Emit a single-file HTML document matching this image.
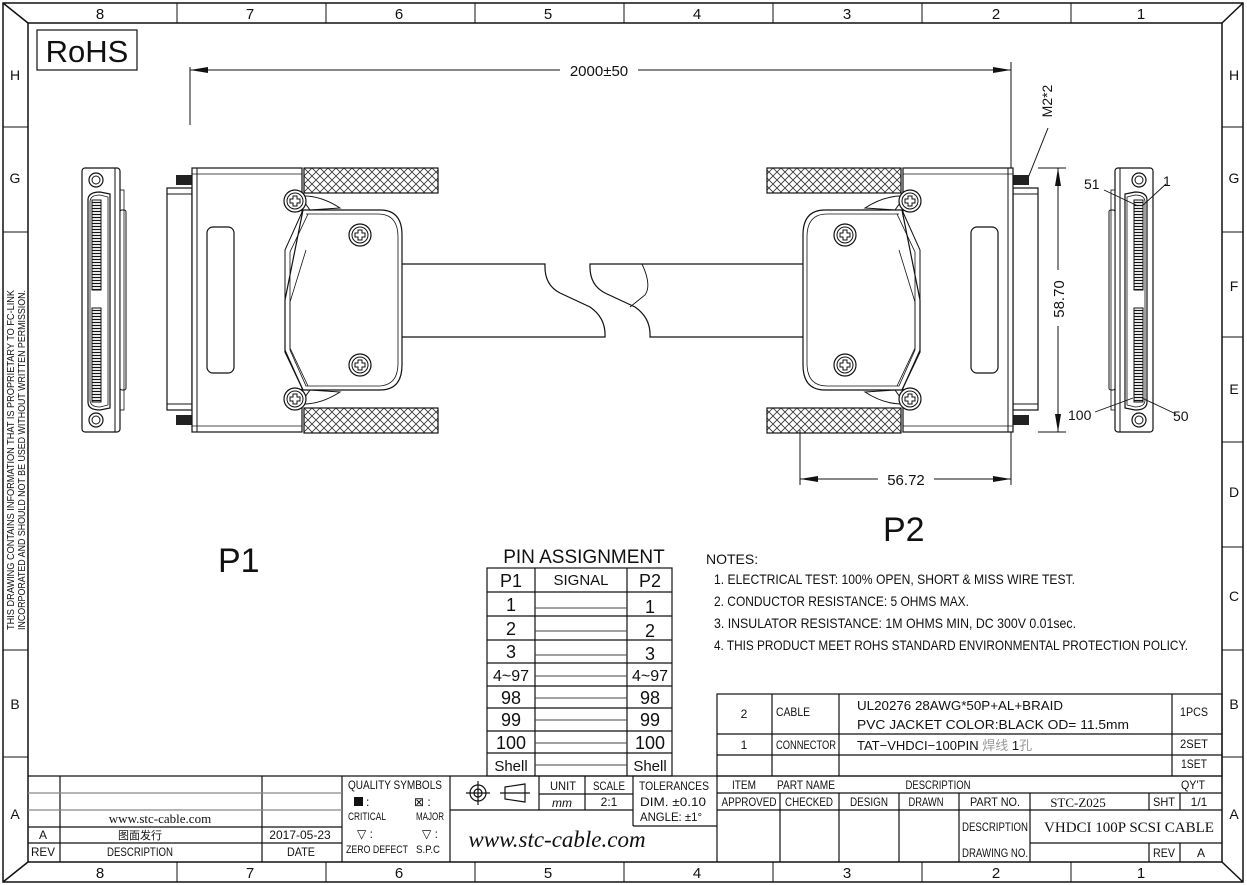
<!DOCTYPE html>
<html><head><meta charset="utf-8"><style>
html,body{margin:0;padding:0;background:#fff}
svg{display:block}
text{font-family:"Liberation Sans",sans-serif;fill:#111}
</style></head><body>
<svg width="1247" height="885" viewBox="0 0 1247 885" xmlns="http://www.w3.org/2000/svg">
<defs>
<pattern id="hatch" width="8" height="8" patternUnits="userSpaceOnUse">
<path d="M0 0L8 8M8 0L0 8" stroke="#333" stroke-width="0.8"/>
</pattern>
<pattern id="pins" width="4" height="3" patternUnits="userSpaceOnUse">
<rect width="4" height="3" fill="#fff"/><path d="M0 1.5H4" stroke="#111" stroke-width="1.2"/>
</pattern>
<g id="side">
<rect x="82" y="168" width="38" height="264" rx="3" fill="#fff" stroke="#111" stroke-width="1.2"/>
<line x1="115" y1="168" x2="115" y2="432" stroke="#111"/>
<rect x="120" y="210" width="6" height="180" rx="2" fill="#fff" stroke="#111"/>
<rect x="120" y="190" width="4" height="220" fill="none" stroke="#111" stroke-width="0.8"/>
<circle cx="96" cy="180" r="7" fill="none" stroke="#111" stroke-width="1.2"/><circle cx="96" cy="180" r="4" fill="none" stroke="#111"/>
<circle cx="96" cy="420" r="7" fill="none" stroke="#111" stroke-width="1.2"/><circle cx="96" cy="420" r="4" fill="none" stroke="#111"/>
<path d="M88 200Q88 192 100 192L110 194V408L100 410Q88 410 88 402Z" fill="#fff" stroke="#111" stroke-width="1.2"/>
<path d="M90 202Q90 195 100 195L108 197V405L100 407Q90 407 90 400Z" fill="none" stroke="#111" stroke-width="0.8"/>
<rect x="92" y="200" width="9" height="90" fill="url(#pins)" stroke="#111"/>
<rect x="92" y="308" width="9" height="94" fill="url(#pins)" stroke="#111"/>
</g>
<g id="plug">
<rect x="176" y="175" width="16" height="10" fill="#222"/>
<rect x="176" y="415" width="16" height="10" fill="#222"/>
<rect x="167" y="188" width="25" height="222" fill="#fff" stroke="#111" stroke-width="1.2"/>
<line x1="167" y1="194" x2="192" y2="194" stroke="#111"/>
<line x1="167" y1="404" x2="192" y2="404" stroke="#111"/>
<rect x="192" y="168" width="110" height="264" fill="#fff" stroke="#111" stroke-width="1.2"/>
<line x1="197" y1="168" x2="197" y2="432" stroke="#111"/>
<line x1="192" y1="174" x2="302" y2="174" stroke="#111" stroke-width="0.8"/>
<line x1="192" y1="426" x2="302" y2="426" stroke="#111" stroke-width="0.8"/>
<rect x="207" y="227" width="27" height="146" rx="6" fill="none" stroke="#111" stroke-width="1.2"/>
<rect x="304" y="168" width="134" height="25" fill="url(#hatch)" stroke="#111" stroke-width="1.2"/>
<rect x="304" y="408" width="134" height="25" fill="url(#hatch)" stroke="#111" stroke-width="1.2"/>
<path d="M300 196Q320 195 340 208L310 210Z" fill="#fff" stroke="#111"/>
<path d="M300 404Q320 405 340 392L310 390Z" fill="#fff" stroke="#111"/>
<path d="M303 210H380Q402 210 402 235V365Q402 390 380 390H303L285 352V300Z" fill="#fff" stroke="#111" stroke-width="1.2"/>
<path d="M306 214H378Q398 214 398 237V363Q398 386 378 386H306L290 350V302L306 250" fill="none" stroke="#111" stroke-width="0.8"/>
<path d="M303 210L285 250V350L303 390" fill="none" stroke="#111"/>
<path d="M308 214L290 252V348L308 386" fill="none" stroke="#111" stroke-width="0.8"/>
<g fill="#fff" stroke="#111">
<circle cx="295" cy="201" r="11" stroke-width="1.2"/><circle cx="295" cy="201" r="8"/>
<circle cx="295" cy="399" r="11" stroke-width="1.2"/><circle cx="295" cy="399" r="8"/>
<circle cx="360" cy="235" r="11" stroke-width="1.2"/><circle cx="360" cy="235" r="8"/>
<circle cx="360" cy="365" r="11" stroke-width="1.2"/><circle cx="360" cy="365" r="8"/>
</g>
<g fill="none" stroke="#111" stroke-width="1">
<path d="M293 196h4v3h3v4h-3v3h-4v-3h-3v-4h3z"/>
<path d="M293 394h4v3h3v4h-3v3h-4v-3h-3v-4h3z"/>
<path d="M358 230h4v3h3v4h-3v3h-4v-3h-3v-4h3z"/>
<path d="M358 360h4v3h3v4h-3v3h-4v-3h-3v-4h3z"/>
</g>
</g>
</defs>

<!-- frame -->
<g fill="none" stroke="#111" stroke-width="1.5">
<rect x="3" y="3" width="1240" height="879"/>
<rect x="28" y="23" width="1194" height="839"/>
<line x1="3" y1="3" x2="28" y2="23"/><line x1="1243" y1="3" x2="1222" y2="23"/>
<line x1="3" y1="882" x2="28" y2="862"/><line x1="1243" y1="882" x2="1222" y2="862"/>
</g>
<g stroke="#111" stroke-width="1">
<line x1="177" y1="3" x2="177" y2="23"/><line x1="326" y1="3" x2="326" y2="23"/><line x1="475" y1="3" x2="475" y2="23"/><line x1="624" y1="3" x2="624" y2="23"/><line x1="773" y1="3" x2="773" y2="23"/><line x1="922" y1="3" x2="922" y2="23"/><line x1="1071" y1="3" x2="1071" y2="23"/>
<line x1="177" y1="862" x2="177" y2="882"/><line x1="326" y1="862" x2="326" y2="882"/><line x1="475" y1="862" x2="475" y2="882"/><line x1="624" y1="862" x2="624" y2="882"/><line x1="773" y1="862" x2="773" y2="882"/><line x1="922" y1="862" x2="922" y2="882"/><line x1="1071" y1="862" x2="1071" y2="882"/>
<line x1="3" y1="127" x2="28" y2="127"/><line x1="3" y1="232" x2="28" y2="232"/><line x1="3" y1="650" x2="28" y2="650"/><line x1="3" y1="757" x2="28" y2="757"/>
<line x1="1222" y1="127" x2="1243" y2="127"/><line x1="1222" y1="232" x2="1243" y2="232"/><line x1="1222" y1="337" x2="1243" y2="337"/><line x1="1222" y1="442" x2="1243" y2="442"/><line x1="1222" y1="547" x2="1243" y2="547"/><line x1="1222" y1="650" x2="1243" y2="650"/><line x1="1222" y1="757" x2="1243" y2="757"/>
</g>
<g font-size="15" text-anchor="middle">
<text x="100" y="19">8</text><text x="250" y="19">7</text><text x="399" y="19">6</text><text x="548" y="19">5</text><text x="697" y="19">4</text><text x="847" y="19">3</text><text x="996" y="19">2</text><text x="1141" y="19">1</text>
<text x="100" y="878">8</text><text x="250" y="878">7</text><text x="399" y="878">6</text><text x="548" y="878">5</text><text x="697" y="878">4</text><text x="847" y="878">3</text><text x="996" y="878">2</text><text x="1141" y="878">1</text>
<g font-size="14">
<text x="15" y="80">H</text><text x="15" y="183">G</text><text x="15" y="709">B</text><text x="15" y="819">A</text>
<text x="1234" y="80">H</text><text x="1234" y="183">G</text><text x="1234" y="291">F</text><text x="1234" y="394">E</text><text x="1234" y="497">D</text><text x="1234" y="601">C</text><text x="1234" y="709">B</text><text x="1234" y="819">A</text>
</g>
</g>
<g font-size="10" text-anchor="middle">
<text transform="translate(14,460) rotate(-90)" textLength="340" lengthAdjust="spacingAndGlyphs">THIS DRAWING CONTAINS INFORMATION THAT IS PROPRIETARY TO FC-LINK</text>
<text transform="translate(25,460) rotate(-90)" textLength="340" lengthAdjust="spacingAndGlyphs">INCORPORATED AND SHOULD NOT BE USED WITHOUT WRITTEN PERMISSION.</text>
</g>

<!-- RoHS -->
<rect x="37" y="30" width="100" height="40" fill="none" stroke="#111" stroke-width="1.2"/>
<text x="87" y="62" font-size="31" text-anchor="middle">RoHS</text>

<!-- dimensions -->
<g stroke="#111" stroke-width="1">
<line x1="190" y1="67" x2="190" y2="125"/>
<line x1="1011" y1="62" x2="1011" y2="170"/>
<line x1="190" y1="70" x2="1011" y2="70"/>
<line x1="1011" y1="432" x2="1011" y2="485"/>
<line x1="800" y1="430" x2="800" y2="485"/>
<line x1="800" y1="479" x2="1011" y2="479"/>
<line x1="1038" y1="168" x2="1066" y2="168"/>
<line x1="1038" y1="432" x2="1066" y2="432"/>
<line x1="1058" y1="168" x2="1058" y2="432"/>
<line x1="1048" y1="128" x2="1028" y2="178"/>
</g>
<g fill="#111">
<path d="M190 70l18-3v6z"/><path d="M1011 70l-18-3v6z"/>
<path d="M800 479l18-3v6z"/><path d="M1011 479l-18-3v6z"/>
<path d="M1058 168l-3 18h6z"/><path d="M1058 432l-3-18h6z"/>
</g>
<rect x="560" y="62" width="78" height="16" fill="#fff"/>
<text x="599" y="76" font-size="15" text-anchor="middle">2000±50</text>
<rect x="878" y="471" width="56" height="16" fill="#fff"/>
<text x="906" y="485" font-size="15" text-anchor="middle">56.72</text>
<rect x="1050" y="270" width="16" height="56" fill="#fff"/>
<text transform="translate(1064,299) rotate(-90)" font-size="15" text-anchor="middle">58.70</text>
<text transform="translate(1052,101) rotate(-90)" font-size="14" text-anchor="middle">M2*2</text>

<!-- cable -->
<g fill="none" stroke="#111" stroke-width="1.2">
<path d="M402 264H545Q544 285 560 293L590 307Q606 318 605 337H402"/>
<path d="M808 264H590Q589 285 605 293L635 307Q651 318 650 337H808"/>
<path d="M642 264Q652 285 645 295L630 307" stroke-width="0.9"/>
</g>

<use href="#side"/>
<use href="#plug"/>
<g transform="translate(1205,0) scale(-1,1)"><use href="#plug"/></g>
<g transform="translate(1235,0) scale(-1,1)"><use href="#side"/></g>

<g stroke="#111" stroke-width="0.9">
<line x1="1104" y1="190" x2="1138" y2="206"/><line x1="1166" y1="184" x2="1142" y2="206"/>
<line x1="1095" y1="412" x2="1133" y2="398"/><line x1="1176" y1="414" x2="1142" y2="398"/>
</g>
<g font-size="14">
<text x="1084" y="189">51</text><text x="1163" y="186">1</text><text x="1068" y="420">100</text><text x="1173" y="421">50</text>
</g>

<text x="218" y="572" font-size="34">P1</text>
<text x="883" y="541" font-size="34">P2</text>

<!-- pin table -->
<text x="584" y="563" font-size="19" text-anchor="middle">PIN  ASSIGNMENT</text>
<g fill="none" stroke="#111" stroke-width="1.2">
<rect x="487" y="568" width="185" height="208"/>
<line x1="535" y1="568" x2="535" y2="776"/><line x1="627" y1="568" x2="627" y2="776"/>
<path d="M487 592H672M487 616H672M487 640H672M487 663H672M487 686H672M487 708H672M487 731H672M487 753H672"/>
</g>
<g stroke="#444" stroke-width="1.1">
<path d="M535 608H627M535 631H627M535 655H627M535 676H627M535 698H627M535 720H627M535 743H627M535 765H627"/>
</g>
<g font-size="18" text-anchor="middle">
<text x="511" y="587">P1</text><text x="650" y="587">P2</text>
<text x="581" y="585" font-size="15">SIGNAL</text>
<text x="511" y="611">1</text><text x="650" y="613">1</text>
<text x="511" y="635">2</text><text x="650" y="637">2</text>
<text x="511" y="658">3</text><text x="650" y="660">3</text>
<text x="511" y="681" font-size="16">4~97</text><text x="650" y="681" font-size="16">4~97</text>
<text x="511" y="704">98</text><text x="650" y="704">98</text>
<text x="511" y="726">99</text><text x="650" y="726">99</text>
<text x="511" y="749">100</text><text x="650" y="749">100</text>
<text x="511" y="771" font-size="15">Shell</text><text x="650" y="771" font-size="15">Shell</text>
</g>

<!-- notes -->
<g font-size="14">
<text x="706" y="564">NOTES:</text>
<text x="714" y="584" textLength="361" lengthAdjust="spacingAndGlyphs">1. ELECTRICAL TEST: 100%  OPEN, SHORT &amp; MISS WIRE TEST.</text>
<text x="714" y="606" textLength="255" lengthAdjust="spacingAndGlyphs">2. CONDUCTOR RESISTANCE: 5 OHMS MAX.</text>
<text x="714" y="628" textLength="362" lengthAdjust="spacingAndGlyphs">3. INSULATOR RESISTANCE: 1M OHMS MIN, DC 300V 0.01sec.</text>
<text x="714" y="650" textLength="474" lengthAdjust="spacingAndGlyphs">4. THIS PRODUCT MEET ROHS STANDARD ENVIRONMENTAL PROTECTION POLICY.</text>
</g>

<!-- title block -->
<g fill="none" stroke="#111" stroke-width="1.2">
<line x1="28" y1="776" x2="1222" y2="776"/>
<rect x="717" y="694" width="505" height="82"/>
<line x1="717" y1="734" x2="1222" y2="734"/><line x1="717" y1="755" x2="1222" y2="755"/>
<line x1="772" y1="694" x2="772" y2="776"/><line x1="839" y1="694" x2="839" y2="776"/><line x1="1172" y1="694" x2="1172" y2="776"/>
<line x1="717" y1="793" x2="1222" y2="793"/><line x1="717" y1="810" x2="1222" y2="810"/>
<line x1="717" y1="776" x2="717" y2="862"/>
<line x1="780" y1="793" x2="780" y2="862"/><line x1="839" y1="793" x2="839" y2="862"/><line x1="899" y1="793" x2="899" y2="862"/><line x1="959" y1="793" x2="959" y2="862"/><line x1="1030" y1="793" x2="1030" y2="862"/>
<line x1="1030" y1="843" x2="1222" y2="843"/>
<line x1="1149" y1="793" x2="1149" y2="810"/><line x1="1180" y1="793" x2="1180" y2="810"/>
<line x1="1149" y1="843" x2="1149" y2="862"/><line x1="1180" y1="843" x2="1180" y2="862"/>
<line x1="60" y1="776" x2="60" y2="862"/><line x1="262" y1="776" x2="262" y2="862"/><line x1="342" y1="776" x2="342" y2="862"/><line x1="450" y1="776" x2="450" y2="862"/>
<line x1="28" y1="793" x2="342" y2="793" stroke="#888"/><line x1="28" y1="810" x2="342" y2="810" stroke="#888"/>
<line x1="28" y1="827" x2="342" y2="827"/><line x1="28" y1="843" x2="342" y2="843"/>
<line x1="539" y1="776" x2="539" y2="810"/><line x1="585" y1="776" x2="585" y2="810"/><line x1="633" y1="776" x2="633" y2="826"/>
<line x1="539" y1="794" x2="633" y2="794"/><line x1="450" y1="810" x2="633" y2="810"/>
<line x1="633" y1="826" x2="717" y2="826"/>
</g>
<g font-size="12" text-anchor="middle" lengthAdjust="spacingAndGlyphs">
<text x="744" y="718">2</text><text x="793" y="716" textLength="34" lengthAdjust="spacingAndGlyphs">CABLE</text>
<text x="744" y="749">1</text><text x="806" y="749" textLength="60" lengthAdjust="spacingAndGlyphs">CONNECTOR</text>
<text x="1194" y="716" textLength="28" lengthAdjust="spacingAndGlyphs">1PCS</text><text x="1194" y="748" textLength="28" lengthAdjust="spacingAndGlyphs">2SET</text><text x="1194" y="768" textLength="26" lengthAdjust="spacingAndGlyphs">1SET</text>
<text x="744" y="789" textLength="24" lengthAdjust="spacingAndGlyphs">ITEM</text><text x="806" y="789" textLength="58" lengthAdjust="spacingAndGlyphs">PART NAME</text><text x="938" y="789" textLength="65" lengthAdjust="spacingAndGlyphs">DESCRIPTION</text><text x="1193" y="789" textLength="24" lengthAdjust="spacingAndGlyphs">QY'T</text>
<text x="749" y="806" textLength="55" lengthAdjust="spacingAndGlyphs">APPROVED</text><text x="809" y="806" textLength="48" lengthAdjust="spacingAndGlyphs">CHECKED</text><text x="869" y="806" textLength="38" lengthAdjust="spacingAndGlyphs">DESIGN</text><text x="926" y="806" textLength="35" lengthAdjust="spacingAndGlyphs">DRAWN</text><text x="995" y="806" textLength="50" lengthAdjust="spacingAndGlyphs">PART NO.</text>
<text x="1164" y="806" textLength="22" lengthAdjust="spacingAndGlyphs">SHT</text><text x="1199" y="806">1/1</text>
<text x="995" y="831" textLength="66" lengthAdjust="spacingAndGlyphs">DESCRIPTION</text><text x="995" y="857" textLength="66" lengthAdjust="spacingAndGlyphs">DRAWING NO.</text>
<text x="1164" y="857" textLength="22" lengthAdjust="spacingAndGlyphs">REV</text><text x="1201" y="857">A</text>
<text x="395" y="789" textLength="94" lengthAdjust="spacingAndGlyphs">QUALITY  SYMBOLS</text>
<text x="367" y="820" font-size="11" textLength="38" lengthAdjust="spacingAndGlyphs">CRITICAL</text><text x="430" y="820" font-size="11" textLength="28" lengthAdjust="spacingAndGlyphs">MAJOR</text>
<text x="377" y="853" font-size="11" textLength="62" lengthAdjust="spacingAndGlyphs">ZERO  DEFECT</text><text x="428" y="853" font-size="11" textLength="24" lengthAdjust="spacingAndGlyphs">S.P.C</text>
<text x="365" y="838">▽ :</text><text x="430" y="838">▽ :</text>
<text x="563" y="790" textLength="26" lengthAdjust="spacingAndGlyphs">UNIT</text><text x="609" y="790" textLength="32" lengthAdjust="spacingAndGlyphs">SCALE</text><text x="674" y="790" textLength="70" lengthAdjust="spacingAndGlyphs">TOLERANCES</text>
<text x="609" y="806">2:1</text>
<text x="43" y="839">A</text><text x="43" y="856" textLength="24" lengthAdjust="spacingAndGlyphs">REV</text><text x="140" y="856" textLength="66" lengthAdjust="spacingAndGlyphs">DESCRIPTION</text><text x="301" y="856" textLength="28" lengthAdjust="spacingAndGlyphs">DATE</text>
</g>
<rect x="354" y="797" width="9" height="9" fill="#111"/>
<text x="366" y="806" font-size="12">:</text>
<text x="414" y="806" font-size="12">⊠ :</text>
<g font-size="12">
<text x="562" y="807" text-anchor="middle" font-style="italic">mm</text>
<text x="640" y="806" textLength="66" lengthAdjust="spacingAndGlyphs">DIM.  ±0.10</text>
<text x="640" y="821" textLength="62" lengthAdjust="spacingAndGlyphs">ANGLE:  ±1°</text>
<text x="300" y="839" text-anchor="middle">2017-05-23</text>
</g>
<text x="140" y="839" font-size="11" text-anchor="middle" style="font-family:'Liberation Sans','Noto Sans CJK SC',sans-serif">图面发行</text>
<g fill="none" stroke="#111" stroke-width="1.2">
<circle cx="478" cy="793" r="8"/><circle cx="478" cy="793" r="4"/>
<line x1="466" y1="793" x2="490" y2="793"/><line x1="478" y1="781" x2="478" y2="805"/>
<path d="M500 793H530M505 787L525 784V802L505 799Z"/>
</g>
<g font-size="13">
<text x="857" y="710" textLength="206" lengthAdjust="spacingAndGlyphs">UL20276  28AWG*50P+AL+BRAID</text>
<text x="857" y="729" textLength="272" lengthAdjust="spacingAndGlyphs">PVC  JACKET  COLOR:BLACK  OD=  11.5mm</text>
<text x="857" y="750" style="font-family:'Liberation Sans','Noto Sans CJK SC',sans-serif">TAT−VHDCI−100PIN <tspan fill="#999">焊线</tspan>    1<tspan fill="#999">孔</tspan></text>
</g>
<text x="160" y="823" font-size="13" text-anchor="middle" fill="#555" style="font-family:'Liberation Serif',serif">www.stc-cable.com</text>
<text x="557" y="847" font-size="23" text-anchor="middle" font-style="italic" fill="#333" style="font-family:'Liberation Serif',serif">www.stc-cable.com</text>
<text x="1078" y="807" font-size="13" text-anchor="middle" fill="#666" style="font-family:'Liberation Serif',serif">STC-Z025</text>
<text x="1129" y="832" font-size="15" text-anchor="middle" fill="#555" style="font-family:'Liberation Serif',serif">VHDCI 100P SCSI CABLE</text>
</svg>
</body></html>
